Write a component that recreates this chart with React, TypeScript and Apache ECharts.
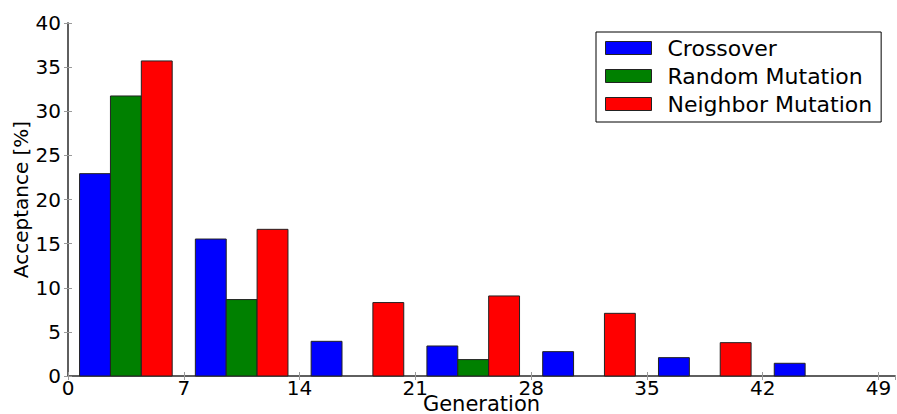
import React, { useEffect, useRef } from "react";
import * as echarts from "echarts";

// Histogram of operator acceptance per generation bin (7 generations per bin)
const BIN_WIDTH = 7;
const binStarts = [0, 7, 14, 21, 28, 35, 42];
const seriesNames = ["Crossover", "Random Mutation", "Neighbor Mutation"];
const crossover = [22.93, 15.52, 3.93, 3.4, 2.76, 2.08, 1.44];
const randomMutation = [31.73, 8.66, 0, 1.86, 0, 0, 0];
const neighborMutation = [35.7, 16.62, 8.32, 9.07, 7.1, 3.78, 0];
const seriesValues = [crossover, randomMutation, neighborMutation];
const seriesColors = ["#0000ff", "#008000", "#ff0000"];
const xTicks = [0, 7, 14, 21, 28, 35, 42, 49];
const yTicks = [0, 5, 10, 15, 20, 25, 30, 35, 40];

const FONT = "DejaVu Sans";
const FRAME = "#555555";
const TICK = "#9a9a9a";

export default function App() {
  const ref = useRef<HTMLDivElement>(null);

  useEffect(() => {
    if (!ref.current) return;
    const chart = echarts.init(ref.current, undefined, { renderer: "svg" });

    // bars fill 80% of each bin, split evenly between the three series
    const groupWidth = BIN_WIDTH * 0.8;
    const barWidth = groupWidth / seriesNames.length;
    const groupOffset = BIN_WIDTH * 0.1;

    const series = seriesNames.map((name, s) => ({
      name,
      type: "custom",
      xAxisIndex: 0,
      yAxisIndex: 0,
      itemStyle: { color: seriesColors[s], borderColor: "#222", borderWidth: 1 },
      encode: { x: 0, y: 1 },
      data: seriesValues[s].map((v, i) => [binStarts[i], v]),
      renderItem: (params: any, api: any) => {
        const start = api.value(0);
        const v = api.value(1);
        if (!v) return null;
        const x0 = start + groupOffset + s * barWidth;
        const p0 = api.coord([x0, v]);
        const p1 = api.coord([x0 + barWidth, 0]);
        return {
          type: "rect",
          shape: { x: p0[0], y: p0[1], width: p1[0] - p0[0], height: p1[1] - p0[1] },
          style: { fill: seriesColors[s], stroke: "#222", lineWidth: 1 },
        };
      },
    }));

    const xBase = {
      type: "value",
      min: 0,
      max: 50,
      interval: 7,
      axisLine: { show: true, lineStyle: { color: FRAME, width: 1.5 } },
      axisTick: { show: true, inside: true, length: 4, lineStyle: { color: TICK } },
      splitLine: { show: false },
    };
    const yBase = {
      type: "value",
      min: 0,
      max: 40,
      interval: 5,
      axisLine: { show: true, lineStyle: { color: FRAME, width: 1.5 } },
      axisTick: { show: true, inside: true, length: 4, lineStyle: { color: TICK } },
      splitLine: { show: false },
    };

    chart.setOption({
      animation: false,
      backgroundColor: "#ffffff",
      grid: {
        left: 68,
        right: 2,
        top: 23,
        bottom: 38,
        containLabel: false,
        outerBoundsMode: "none",
      },
      xAxis: [
        {
          ...xBase,
          position: "bottom",
          name: "Generation",
          nameLocation: "middle",
          nameGap: 20,
          nameMoveOverlap: false,
          nameTextStyle: {
            fontFamily: FONT,
            fontSize: 21,
            lineHeight: 16,
            color: "#000",
            verticalAlign: "top",
          },
          axisLabel: {
            show: true,
            margin: 4,
            showMaxLabel: false,
            fontFamily: FONT,
            fontSize: 20,
            lineHeight: 16,
            color: "#000",
            formatter: (v: number) => (xTicks.includes(v) ? String(v) : ""),
          },
        },
        { ...xBase, position: "top", axisLabel: { show: false } },
      ],
      yAxis: [
        {
          ...yBase,
          position: "left",
          name: "Acceptance [%]",
          nameLocation: "middle",
          nameGap: 37,
          nameRotate: 90,
          nameMoveOverlap: false,
          nameTextStyle: { fontFamily: FONT, fontSize: 20, color: "#000" },
          axisLabel: {
            show: true,
            margin: 7,
            fontFamily: FONT,
            fontSize: 20,
            color: "#000",
            formatter: (v: number) => (yTicks.includes(v) ? String(v) : ""),
          },
        },
        { ...yBase, position: "right", axisLabel: { show: false } },
      ],
      legend: {
        orient: "vertical",
        left: 596,
        top: 32,
        padding: [5, 9, 7, 9],
        itemGap: 6,
        itemWidth: 46,
        itemHeight: 13,
        backgroundColor: "#ffffff",
        borderColor: "#000",
        borderWidth: 1,
        borderRadius: 0,
        textStyle: { fontFamily: FONT, fontSize: 22, lineHeight: 22, color: "#000", padding: [0, 0, 0, 11] },
        data: seriesNames.map((name, s) => ({
          name,
          icon: "rect",
          itemStyle: { color: seriesColors[s], borderColor: "#222", borderWidth: 1 },
        })),
      },
      series,
    });

    return () => chart.dispose();
  }, []);

  return (
    <div
      ref={ref}
      style={{ position: "fixed", left: 0, top: 0, width: 897, height: 414 }}
    />
  );
}
